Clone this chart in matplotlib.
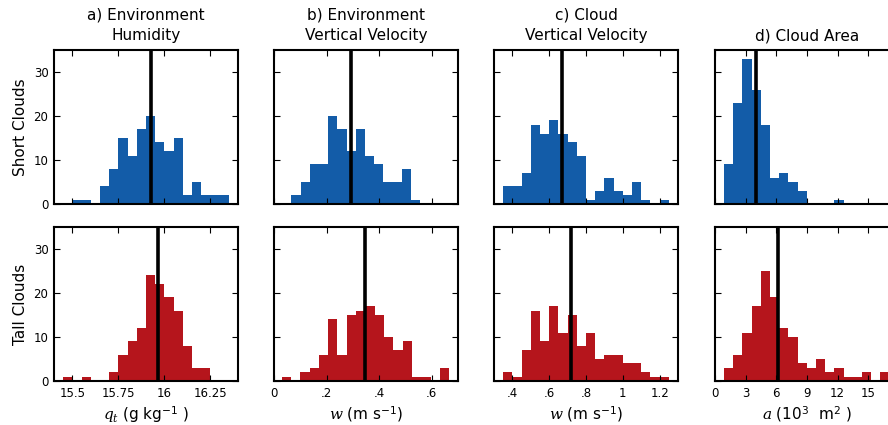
import numpy as np
import matplotlib
matplotlib.use("Agg")
import matplotlib.pyplot as plt

plt.rcParams['font.family'] = ['DejaVu Sans']
plt.rcParams['mathtext.fontset'] = 'custom'
plt.rcParams['mathtext.rm'] = 'DejaVu Sans'
plt.rcParams['mathtext.it'] = 'DejaVu Serif:italic'

# histogram data: first bin edge, bin width, counts, mean line
# a) environment humidity
hum_short_start, hum_short_bw = 15.5, 0.05
hum_short = [1, 1, 0, 4, 8, 15, 11, 17, 20, 14, 12, 15, 2, 5, 2, 2, 2]
hum_short_mean = 15.928
hum_tall_start, hum_tall_bw = 15.45, 0.05
hum_tall = [1, 0, 1, 0, 0, 2, 6, 9, 12, 24, 22, 19, 16, 8, 3, 3]
hum_tall_mean = 15.964

# b) environment vertical velocity
envw_short_start, envw_short_bw = 0.066, 0.035
envw_short = [2, 5, 9, 9, 20, 17, 12, 17, 11, 9, 5, 5, 8, 1]
envw_short_mean = 0.294
envw_tall_start, envw_tall_bw = 0.029, 0.0354
envw_tall = [1, 0, 2, 3, 6, 14, 6, 15, 16, 17, 15, 10, 7, 9, 1, 1, 0, 3]
envw_tall_mean = 0.346

# c) cloud vertical velocity
cldw_short_start, cldw_short_bw = 0.35, 0.05
cldw_short = [4, 4, 7, 18, 16, 19, 16, 14, 11, 1, 3, 6, 3, 2, 5, 1, 0, 1]
cldw_short_mean = 0.672
cldw_tall_start, cldw_tall_bw = 0.35, 0.05
cldw_tall = [2, 1, 7, 16, 9, 17, 11, 15, 8, 11, 5, 6, 6, 4, 4, 2, 1, 1]
cldw_tall_mean = 0.72

# d) cloud area
area_short_start, area_short_bw = 0.88, 0.9
area_short = [9, 23, 33, 26, 18, 6, 7, 5, 3, 0, 0, 0, 1]
area_short_mean = 4.0
area_tall_start, area_tall_bw = 0.88, 0.9
area_tall = [3, 6, 11, 17, 25, 19, 12, 10, 4, 3, 5, 2, 3, 1, 1, 2, 0, 2]
area_tall_mean = 6.14

titles = ['a) Environment\nHumidity', 'b) Environment\nVertical Velocity',
          'c) Cloud\nVertical Velocity', 'd) Cloud Area']
xlabels = [r'$q_t$ (g kg$^{-1}$ )', r'$w$ (m s$^{-1}$)', r'$w$ (m s$^{-1}$)',
           r'$a$ (10$^{3}$  m$^{2}$ )']
xlims = [(15.4, 16.4), (0, 0.7), (0.3, 1.3), (0, 18)]
xticks = [[15.5, 15.75, 16, 16.25], [0, 0.2, 0.4, 0.6],
          [0.4, 0.6, 0.8, 1.0, 1.2], [0, 3, 6, 9, 12, 15]]
xticklabels = [['15.5', '15.75', '16', '16.25'], ['0', '.2', '.4', '.6'],
               ['.4', '.6', '.8', '1', '1.2'], ['0', '3', '6', '9', '12', '15']]

short = [(hum_short_start, hum_short_bw, hum_short, hum_short_mean),
         (envw_short_start, envw_short_bw, envw_short, envw_short_mean),
         (cldw_short_start, cldw_short_bw, cldw_short, cldw_short_mean),
         (area_short_start, area_short_bw, area_short, area_short_mean)]
tall = [(hum_tall_start, hum_tall_bw, hum_tall, hum_tall_mean),
        (envw_tall_start, envw_tall_bw, envw_tall, envw_tall_mean),
        (cldw_tall_start, cldw_tall_bw, cldw_tall, cldw_tall_mean),
        (area_tall_start, area_tall_bw, area_tall, area_tall_mean)]

blue = '#135CA8'
red = '#B5151C'

W, H = 888, 425
fig = plt.figure(figsize=(W / 100, H / 100), dpi=100)

lefts = [54, 274, 494, 715]
tops = [50, 227]
aw, ah = 184, 154

for row, (data, color) in enumerate([(short, blue), (tall, red)]):
    for col in range(4):
        ax = fig.add_axes([lefts[col] / W, 1 - (tops[row] + ah) / H, aw / W, ah / H])
        start, bw, counts, mean = data[col]
        edges = start + bw * np.arange(len(counts) + 1)
        ax.stairs(counts, edges, fill=True, color=color, linewidth=0)
        ax.axvline(mean, color='black', linewidth=2.6)
        ax.set_xlim(*xlims[col])
        ax.set_ylim(0, 35)
        ax.set_xticks(xticks[col])
        ax.set_yticks([0, 10, 20, 30])
        ax.tick_params(direction='in', top=True, right=True, length=4,
                       width=0.8, labelsize=8.5, pad=4)
        for s in ax.spines.values():
            s.set_linewidth(1.5)
        if row == 0:
            ax.set_title(titles[col], fontsize=11, pad=7, linespacing=1.45)
            ax.set_xticklabels([])
        else:
            ax.set_xticklabels(xticklabels[col])
            ax.set_xlabel(xlabels[col], fontsize=11, labelpad=3)
        if col == 0:
            ax.set_ylabel('Short Clouds' if row == 0 else 'Tall Clouds', fontsize=11)
        else:
            ax.set_yticklabels([])

fig.savefig('out.png', dpi=100)
